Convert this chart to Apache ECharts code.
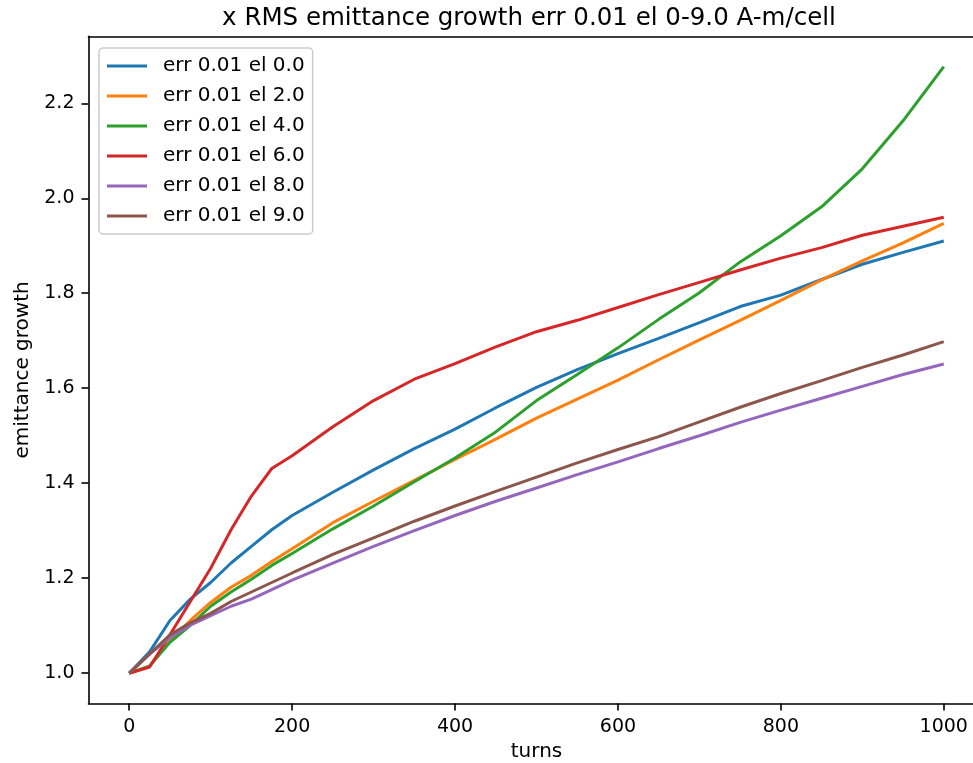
<!DOCTYPE html>
<html style="height: 100%">
<head>
<meta charset="utf-8">
<script src="https://cdn.jsdelivr.net/npm/echarts@6/dist/echarts.min.js"></script>
</head>
<body style="height: 100%; margin: 0; background: #fff">
<div id="container" style="width: 973px; height: 763px"></div>
<script type="text/javascript">
// turns sampled along the x axis
var turns = [0, 25, 50, 75, 100, 125, 150, 175, 200, 250, 300, 350, 400, 450, 500,
             550, 600, 650, 700, 750, 800, 850, 900, 950, 1000];

// emittance growth per error level
var el00 = [1.0, 1.045, 1.111, 1.156, 1.191, 1.232, 1.267, 1.302, 1.332, 1.381, 1.428, 1.473, 1.514, 1.559, 1.602,
            1.639, 1.673, 1.705, 1.738, 1.772, 1.796, 1.829, 1.861, 1.886, 1.910];
var el20 = [1.0, 1.015, 1.070, 1.111, 1.149, 1.181, 1.206, 1.235, 1.262, 1.317, 1.362, 1.406, 1.450, 1.493, 1.537,
            1.577, 1.617, 1.660, 1.702, 1.743, 1.785, 1.828, 1.868, 1.906, 1.947];
var el40 = [1.0, 1.015, 1.065, 1.101, 1.141, 1.171, 1.198, 1.227, 1.252, 1.304, 1.352, 1.403, 1.453, 1.508, 1.574,
            1.629, 1.685, 1.745, 1.801, 1.866, 1.921, 1.982, 2.062, 2.163, 2.277];
var el60 = [1.0, 1.013, 1.081, 1.151, 1.221, 1.302, 1.373, 1.431, 1.458, 1.519, 1.574, 1.619, 1.652, 1.687, 1.719,
            1.743, 1.770, 1.797, 1.823, 1.849, 1.874, 1.896, 1.922, 1.941, 1.960];
var el80 = [1.0, 1.040, 1.075, 1.101, 1.121, 1.141, 1.156, 1.176, 1.196, 1.232, 1.267, 1.300, 1.332, 1.362, 1.390,
            1.418, 1.445, 1.473, 1.500, 1.528, 1.554, 1.579, 1.604, 1.629, 1.651];
var el90 = [1.0, 1.040, 1.081, 1.106, 1.126, 1.151, 1.171, 1.191, 1.211, 1.250, 1.285, 1.320, 1.352, 1.383, 1.413,
            1.443, 1.471, 1.498, 1.529, 1.560, 1.589, 1.616, 1.644, 1.670, 1.698];

var seriesNames = ['err 0.01 el 0.0', 'err 0.01 el 2.0', 'err 0.01 el 4.0',
                   'err 0.01 el 6.0', 'err 0.01 el 8.0', 'err 0.01 el 9.0'];
var seriesValues = [el00, el20, el40, el60, el80, el90];
var colors = ['#1f77b4', '#ff7f0e', '#2ca02c', '#d62728', '#9467bd', '#8c564b'];

var xTicks = [0, 200, 400, 600, 800, 1000];
var yTicks = [1.0, 1.2, 1.4, 1.6, 1.8, 2.0, 2.2];

var FONT = '"DejaVu Sans", sans-serif';
var X_MIN = -50, X_MAX = 1050;

function pairs(xs, ys) {
    var out = [];
    for (var i = 0; i < xs.length; i++) {
        out.push([xs[i], ys[i]]);
    }
    return out;
}

var series = [];
for (var i = 0; i < seriesValues.length; i++) {
    series.push({
        name: seriesNames[i],
        type: 'line',
        symbol: 'none',
        lineStyle: {width: 3, color: colors[i]},
        itemStyle: {color: colors[i]},
        data: pairs(turns, seriesValues[i])
    });
}

var myChart = echarts.init(document.getElementById('container'));
var option = {
    animation: false,
    backgroundColor: '#fff',
    title: {
        text: 'x RMS emittance growth err 0.01 el 0-9.0 A-m/cell',
        left: 524,
        textAlign: 'center',
        top: 1,
        textStyle: {fontFamily: FONT, fontSize: 24.5, fontWeight: 'normal', color: '#000'}
    },
    legend: {
        orient: 'vertical',
        left: 99,
        top: 48,
        padding: [8, 8, 8, 8],
        itemGap: 10,
        itemWidth: 40,
        itemHeight: 3,
        icon: 'rect',
        backgroundColor: '#fff',
        borderColor: '#cccccc',
        borderWidth: 1.5,
        borderRadius: 4,
        textStyle: {fontFamily: FONT, fontSize: 20, lineHeight: 20, color: '#000', padding: [0, 0, 0, 11]},
        data: seriesNames
    },
    grid: {
        left: 88.5,
        top: 36.3,
        width: 896,
        height: 667.3,
        show: false,
        outerBoundsMode: 'none',
        containLabel: false
    },
    xAxis: [{
        type: 'value',
        min: X_MIN,
        max: X_MAX,
        name: 'turns',
        nameLocation: 'middle',
        nameGap: 38,
        nameTextStyle: {fontFamily: FONT, fontSize: 20, color: '#000'},
        axisLine: {show: true, onZero: false, lineStyle: {color: '#000', width: 1.6}},
        axisTick: {show: true, length: 7, customValues: xTicks, lineStyle: {color: '#000', width: 1.6}},
        axisLabel: {
            customValues: xTicks, fontFamily: FONT, fontSize: 19, color: '#000', margin: 14,
            formatter: function (v) { return String(v); }
        },
        splitLine: {show: false}
    }, {
        type: 'value',
        position: 'top',
        min: X_MIN,
        max: X_MAX,
        axisLine: {show: true, onZero: false, lineStyle: {color: '#000', width: 1.6}},
        axisTick: {show: false},
        axisLabel: {show: false},
        splitLine: {show: false}
    }],
    yAxis: {
        type: 'value',
        min: 0.936,
        max: 2.341,
        name: 'emittance growth',
        nameLocation: 'middle',
        nameGap: 56,
        nameTextStyle: {fontFamily: FONT, fontSize: 20, color: '#000'},
        axisLine: {show: true, onZero: false, lineStyle: {color: '#000', width: 1.6}},
        axisTick: {show: true, length: 7, customValues: yTicks, lineStyle: {color: '#000', width: 1.6}},
        axisLabel: {
            customValues: yTicks,
            fontFamily: FONT, fontSize: 19, color: '#000', margin: 14,
            formatter: function (v) { return v.toFixed(1); }
        },
        splitLine: {show: false}
    },
    series: series
};
myChart.setOption(option);
</script>
</body>
</html>
